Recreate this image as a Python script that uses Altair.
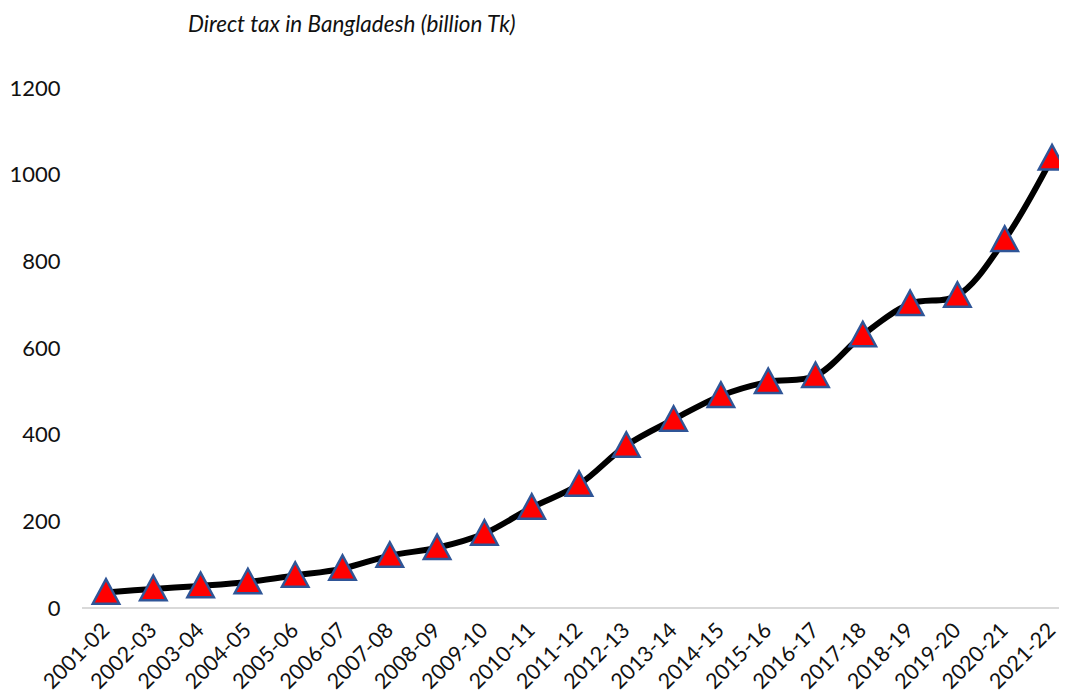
import altair as alt
import pandas as pd

years = ["2001-02", "2002-03", "2003-04", "2004-05", "2005-06", "2006-07", "2007-08",
         "2008-09", "2009-10", "2010-11", "2011-12", "2012-13", "2013-14", "2014-15",
         "2015-16", "2016-17", "2017-18", "2018-19", "2019-20", "2020-21", "2021-22"]
direct_tax = [36, 44, 51, 60, 75, 91, 121, 139, 172, 232, 285, 375, 435, 490,
              522, 536, 630, 702, 721, 850, 1038]
y_ticks = [0, 200, 400, 600, 800, 1000, 1200]
title_text = ["Direct tax in Bangladesh (billion Tk)"]

df = pd.DataFrame({"year": years, "tax": direct_tax})
df_title = pd.DataFrame({"t": title_text})

W, H = 977, 520
FONT = "Lato"

x_enc = alt.X("year:N", sort=years,
              scale=alt.Scale(type="point", padding=0, range=[24, 970]),
              axis=alt.Axis(title=None, labelAngle=-45, labelAlign="right",
                            labelBaseline="middle", labelFont=FONT, labelFontSize=21.5,
                            labelColor="#111111", domain=False, ticks=False, tickSize=0,
                            labelPadding=19, grid=False, labelOverlap=False))
y_enc = alt.Y("tax:Q", scale=alt.Scale(domain=[0, 1200], nice=False),
              axis=alt.Axis(title=None, values=y_ticks, format="d", labelFont=FONT,
                            labelFontSize=22, labelColor="#111111", domain=False,
                            ticks=False, tickSize=0, labelPadding=22, grid=False))

base = alt.Chart(df)

baseline = base.mark_rule(color="#D9D9D9", strokeWidth=1.5).encode(
    x=alt.value(0), x2=alt.value(W), y=alt.value(H)
)

line = base.mark_line(color="black", strokeWidth=6, interpolate="catmull-rom").encode(
    x=x_enc, y=y_enc
)

points = base.mark_point(
    shape="M0,-1L-1,0.85L1,0.85Z", filled=True, fill="#FF0000", stroke="#2F5597",
    strokeWidth=2.5, size=700, opacity=1
).encode(x=x_enc, y=y_enc)

title = alt.Chart(df_title).mark_text(
    align="left", baseline="alphabetic", font=FONT, fontSize=22.5, fontStyle="italic",
    color="#111111"
).encode(text="t:N", x=alt.value(106), y=alt.value(-56))

chart = alt.layer(baseline, line, points, title).properties(
    width=W, height=H,
    autosize=alt.AutoSizeParams(type="none"),
    padding={"left": 74, "top": 80, "right": 0, "bottom": 90},
).configure_view(stroke=None)

chart.save("out.html", embed_options={"renderer": "svg", "actions": False})
